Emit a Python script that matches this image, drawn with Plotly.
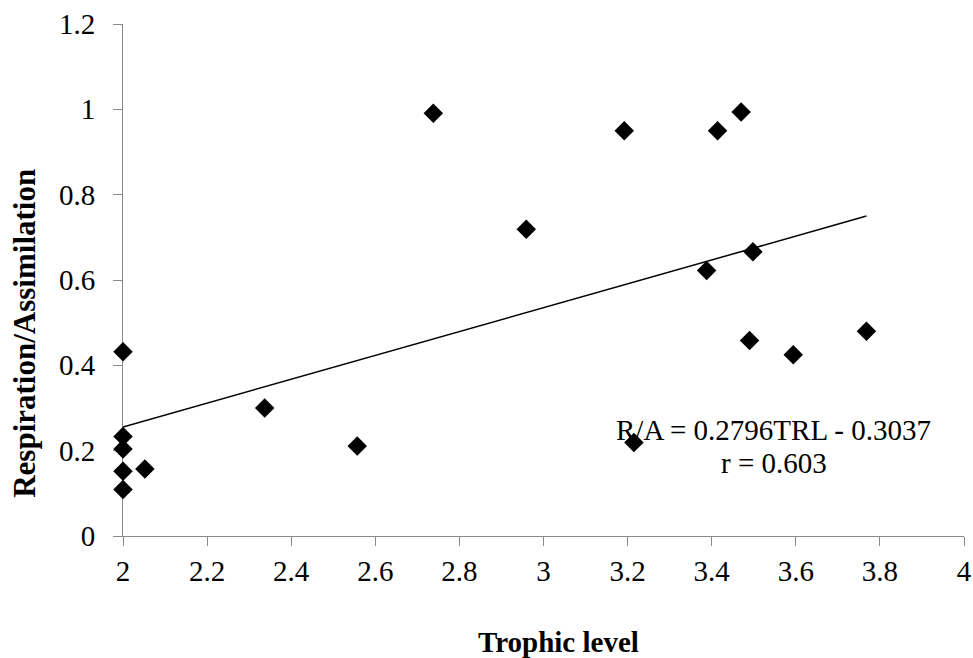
import plotly.graph_objects as go

trophic_level = [2.0, 2.0, 2.0, 2.0, 2.0, 2.052, 2.337, 2.557, 2.738, 2.959,
                 3.192, 3.215, 3.388, 3.414, 3.470, 3.498, 3.490, 3.594, 3.768]
resp_assim = [0.432, 0.233, 0.204, 0.152, 0.109, 0.157, 0.300, 0.211, 0.991, 0.719,
              0.950, 0.219, 0.622, 0.950, 0.994, 0.666, 0.458, 0.425, 0.480]

slope = 0.2796
intercept = -0.3037
eq_text = "R/A = 0.2796TRL - 0.3037"
r_text = "r = 0.603"

x_ticks = [2, 2.2, 2.4, 2.6, 2.8, 3, 3.2, 3.4, 3.6, 3.8, 4]
x_tick_labels = ["2", "2.2", "2.4", "2.6", "2.8", "3", "3.2", "3.4", "3.6", "3.8", "4"]
y_ticks = [0, 0.2, 0.4, 0.6, 0.8, 1, 1.2]
y_tick_labels = ["0", "0.2", "0.4", "0.6", "0.8", "1", "1.2"]

FONT = "Liberation Serif"
AXIS_GRAY = "#898989"

x_min, x_max = min(trophic_level), max(trophic_level)
trend_x = [x_min, x_max]
trend_y = [slope * v + intercept for v in trend_x]

fig = go.Figure()
fig.add_trace(go.Scatter(
    x=trend_x, y=trend_y, mode="lines", cliponaxis=False,
    line=dict(color="black", width=1.5), showlegend=False, hoverinfo="skip"))
fig.add_trace(go.Scatter(
    x=trophic_level, y=resp_assim, mode="markers", cliponaxis=False,
    marker=dict(symbol="diamond", size=15, color="black", line=dict(width=0)),
    showlegend=False))

fig.update_layout(
    width=973, height=658,
    margin=dict(l=123, r=9, t=24, b=122),
    paper_bgcolor="white", plot_bgcolor="white",
    font=dict(family=FONT, size=29, color="black"),
    xaxis=dict(range=[2, 4], tickvals=x_ticks, ticktext=x_tick_labels,
               showgrid=False, zeroline=False, showline=True, linecolor=AXIS_GRAY,
               linewidth=1, ticks="outside", ticklen=9, tickcolor=AXIS_GRAY,
               automargin=False, ticklabeloverflow="allow", layer="below traces",
               tickfont=dict(family=FONT, size=29, color="black")),
    yaxis=dict(range=[0, 1.2], tickvals=y_ticks, ticktext=y_tick_labels,
               showgrid=False, zeroline=False, showline=True, linecolor=AXIS_GRAY,
               linewidth=1, ticks="outside", ticklen=9, tickcolor=AXIS_GRAY,
               automargin=False, ticklabelstandoff=12, layer="below traces",
               tickfont=dict(family=FONT, size=29, color="black")),
    annotations=[
        dict(x=3.548, y=0.248, xref="x", yref="y", text=eq_text, showarrow=False,
             font=dict(family=FONT, size=29, color="black"), xanchor="center", yanchor="middle"),
        dict(x=3.548, y=0.171, xref="x", yref="y", text=r_text, showarrow=False,
             font=dict(family=FONT, size=29, color="black"), xanchor="center", yanchor="middle"),
        dict(x=0.518, y=-0.207, xref="paper", yref="paper", text="<b>Trophic level</b>",
             showarrow=False, font=dict(family=FONT, size=29, color="black"),
             xanchor="center", yanchor="middle"),
        dict(x=-0.1165, y=0.395, xref="paper", yref="paper",
             text="<b>Respiration/Assimilation</b>", textangle=-90, showarrow=False,
             font=dict(family=FONT, size=31, color="black"),
             xanchor="center", yanchor="middle"),
    ],
)

fig.write_html(
    "out.html",
    config={"displayModeBar": False},
    post_script="document.body.style.margin='0';document.body.style.overflow='hidden';",
)
